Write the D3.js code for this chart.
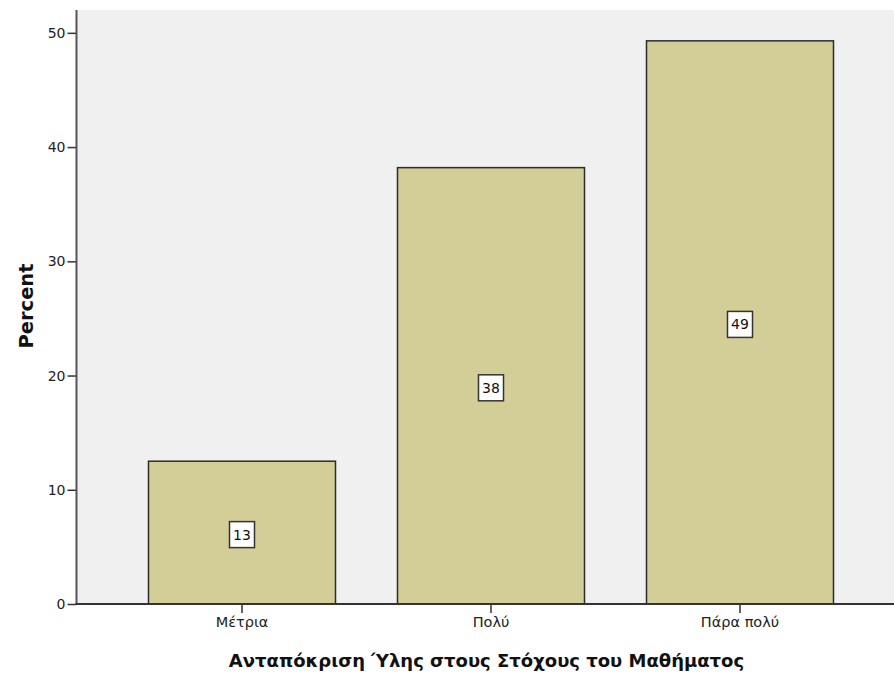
<!DOCTYPE html>
<html><head><meta charset="utf-8">
<script src="https://cdn.jsdelivr.net/npm/d3@7"></script>
<style>body{margin:0;background:#fff}svg{display:block}</style>
</head><body>
<svg id="c" width="894" height="675"></svg>
<script>
const categories = ["Μέτρια", "Πολύ", "Πάρα πολύ"];
const percents = [12.5, 38.2, 49.3];
const valueLabels = ["13", "38", "49"];
const yTicks = [0, 10, 20, 30, 40, 50];
const xTitle = "Ανταπόκριση Ύλης στους Στόχους του Μαθήματος";
const yTitle = "Percent";

const svg = d3.select("#c");
const L = 77, R = 894, T = 10, B = 604;
const font = "'DejaVu Sans', Verdana, sans-serif";

svg.append("rect").attr("x", L).attr("y", T).attr("width", R - L).attr("height", B - T).attr("fill", "#f0f0f0");

const y = d3.scaleLinear().domain([0, 52]).range([B, T]);
const x = d3.scaleBand().domain(categories).range([117.5, 864.5]).paddingInner(0.249).paddingOuter(0.1245);

const bars = svg.append("g");
bars.selectAll("rect").data(categories).join("rect")
  .attr("x", d => x(d)).attr("width", x.bandwidth())
  .attr("y", (d, i) => y(percents[i])).attr("height", (d, i) => y(0) - y(percents[i]))
  .attr("fill", "#d3ce98").attr("stroke", "#2b2b2b").attr("stroke-width", 1.5);

const lab = svg.append("g").selectAll("g").data(categories).join("g")
  .attr("transform", (d, i) => `translate(${x(d) + x.bandwidth() / 2},${y(percents[i] / 2) + 2})`);
lab.append("rect").attr("x", -12.5).attr("y", -13).attr("width", 25).attr("height", 26)
  .attr("fill", "#fff").attr("stroke", "#333").attr("stroke-width", 1.5);
lab.append("text").text((d, i) => valueLabels[i]).attr("text-anchor", "middle").attr("dy", "0.36em")
  .attr("font-family", font).attr("font-size", 14).attr("fill", "#111");

// y axis
const ya = svg.append("g").attr("transform", `translate(${L - 0.5},0)`)
  .call(d3.axisLeft(y).tickValues(yTicks).tickSize(9).tickPadding(2));
ya.select(".domain").remove();
ya.selectAll(".tick line").attr("stroke", "#333").attr("stroke-width", 1.5);
ya.selectAll(".tick text").attr("font-family", font).attr("font-size", 14).attr("fill", "#222");
svg.append("line").attr("x1", L - 0.5).attr("x2", L - 0.5).attr("y1", T).attr("y2", B + 1)
  .attr("stroke", "#555").attr("stroke-width", 2);

// x axis
const xa = svg.append("g").attr("transform", `translate(0,${B})`)
  .call(d3.axisBottom(x).tickSize(9).tickPadding(4));
xa.select(".domain").remove();
xa.selectAll(".tick line").attr("stroke", "#333").attr("stroke-width", 1.5);
xa.selectAll(".tick text").attr("font-family", font).attr("font-size", 14.5).attr("fill", "#222");
svg.append("line").attr("x1", L - 1.5).attr("x2", R).attr("y1", B).attr("y2", B)
  .attr("stroke", "#333").attr("stroke-width", 2);

svg.append("text").text(xTitle).attr("x", (L + R) / 2 + 1).attr("y", 667).attr("text-anchor", "middle")
  .attr("font-family", font).attr("font-weight", "bold").attr("font-size", 18).attr("fill", "#111");
svg.append("text").text(yTitle).attr("transform", `translate(33,${(T + B) / 2 - 1}) rotate(-90)`)
  .attr("text-anchor", "middle").attr("font-family", font).attr("font-weight", "bold").attr("font-size", 19.5).attr("fill", "#111");
</script>
</body></html>
